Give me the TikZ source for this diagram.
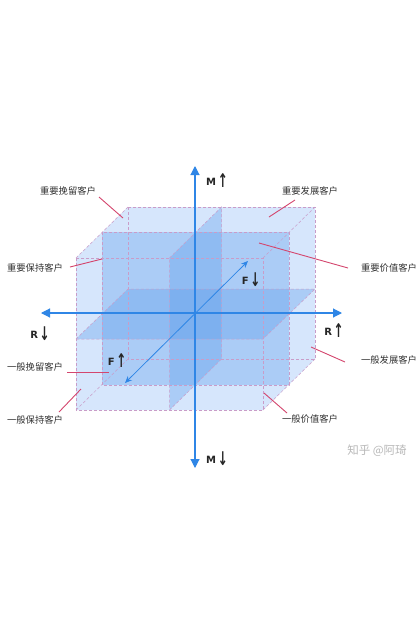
\documentclass[tikz,border=0pt]{standalone}
\usepackage{fontspec}
\usepackage{graphicx}
\usetikzlibrary{arrows.meta}
\newfontfamily\cjk{Noto Sans CJK SC}
\newfontfamily\symfont{DejaVu Sans}
\definecolor{axisblue}{HTML}{2F86E6}
\definecolor{leadred}{HTML}{D4466E}
\definecolor{edgepink}{HTML}{C99CC8}
\definecolor{shell}{HTML}{D6E6FC}
\definecolor{plane}{HTML}{5D9CEC}
\definecolor{labgray}{HTML}{333333}

\tikzset{
  axisline/.style={draw=axisblue,line width=1.1pt,{Triangle[length=9pt,width=9pt]}-{Triangle[length=9pt,width=9pt]}},
  depthline/.style={draw=axisblue,line width=0.8pt,{Stealth[length=7pt,width=6pt]}-{Stealth[length=7pt,width=6pt]}},
  midplane/.style={fill=plane,fill opacity=0.35,draw=none},
  edge/.style={draw=edgepink,densely dashed,line width=0.5pt},
  leader/.style={draw=leadred,line width=0.9pt},
  seglabel/.style={font=\cjk\fontsize{9.3}{11}\selectfont,text=labgray,inner sep=0pt},
  dirlabel/.style={inner sep=0pt,text=black!85,font=\symfont\bfseries\fontsize{10}{12}\selectfont}
}
\newcommand{\dirup}[1]{#1\,\raisebox{-0.45ex}{\scalebox{0.85}[1.35]{\fontsize{14}{14}\selectfont ↑}}}
\newcommand{\dirdown}[1]{#1\,\raisebox{-0.45ex}{\scalebox{0.85}[1.35]{\fontsize{14}{14}\selectfont ↓}}}

\begin{document}
\begin{tikzpicture}[x=1pt,y=-1pt]
  \useasboundingbox (0,0) rectangle (420,630);
  \fill[white] (0,0) rectangle (420,630);

  \fill[shell] (76,410) -- (76,258) -- (128,207) -- (315,207) -- (315,359) -- (263,410) -- cycle;
  \fill[midplane] (169.5,258) -- (221.5,207) -- (221.5,359) -- (169.5,410) -- cycle;
  \fill[midplane] (76,339) -- (128,289) -- (315,289) -- (263,339) -- cycle;
  \fill[midplane] (102,232) rectangle (289,385);

  \draw[edge] (76,258) rectangle (263,410);
  \draw[edge] (128,207) rectangle (315,359);
  \draw[edge] (102,232) rectangle (289,385);
  \draw[edge] (76,258) -- (128,207) (263,258) -- (315,207)
              (263,410) -- (315,359) (76,410) -- (128,359);
  \draw[edge] (169.5,258) -- (221.5,207) -- (221.5,359) -- (169.5,410) -- cycle;
  \draw[edge] (76,339) -- (128,289) -- (315,289) -- (263,339) -- cycle;

  \coordinate (mtop) at (195,166);
  \coordinate (mbot) at (195,468);
  \coordinate (rleft) at (41,313);
  \coordinate (rright) at (342,313);
  \coordinate (fnear) at (125,383);
  \coordinate (ffar) at (248,261);
  \draw[axisline] (mbot) -- (mtop);
  \draw[axisline] (rleft) -- (rright);
  \draw[depthline] (fnear) -- (ffar);

  \node[dirlabel] (mup) at (217,181) {\dirup{M}};
  \node[dirlabel] (mdown) at (217,459) {\dirdown{M}};
  \node[dirlabel] (rdown) at (40,334) {\dirdown{R}};
  \node[dirlabel] (rup) at (334,331) {\dirup{R}};
  \node[dirlabel] (fdown) at (251,280) {\dirdown{F}};
  \node[dirlabel] (fup) at (117,361) {\dirup{F}};

  \node[seglabel] (ihw) at (68,191) {重要挽留客户};
  \node[seglabel] (ihb) at (35,268) {重要保持客户};
  \node[seglabel] (ihf) at (310,191) {重要发展客户};
  \node[seglabel] (ihj) at (389,268) {重要价值客户};
  \node[seglabel] (ybw) at (35,367) {一般挽留客户};
  \node[seglabel] (ybb) at (35,420) {一般保持客户};
  \node[seglabel] (ybf) at (389,360) {一般发展客户};
  \node[seglabel] (ybj) at (310,419) {一般价值客户};

  \coordinate (ihw1) at (99,197);   \coordinate (ihw2) at (123,218);
  \coordinate (ihb1) at (70,267);   \coordinate (ihb2) at (102,259);
  \coordinate (ihf1) at (295,200);  \coordinate (ihf2) at (269,217);
  \coordinate (ihj1) at (348,268);  \coordinate (ihj2) at (259,243);
  \coordinate (ybw1) at (67,372);   \coordinate (ybw2) at (109,372);
  \coordinate (ybb1) at (59,412);   \coordinate (ybb2) at (81,389);
  \coordinate (ybf1) at (345,362);  \coordinate (ybf2) at (311,347);
  \coordinate (ybj1) at (287,413);  \coordinate (ybj2) at (264,393);
  \foreach \s in {ihw,ihb,ihf,ihj,ybw,ybb,ybf,ybj}
    \draw[leader] (\s1) -- (\s2);

  \node[text=black!28,font=\cjk\fontsize{11.5}{13}\selectfont,inner sep=0pt] (mark) at (377,451) {知乎 @阿琦};
\end{tikzpicture}
\end{document}
